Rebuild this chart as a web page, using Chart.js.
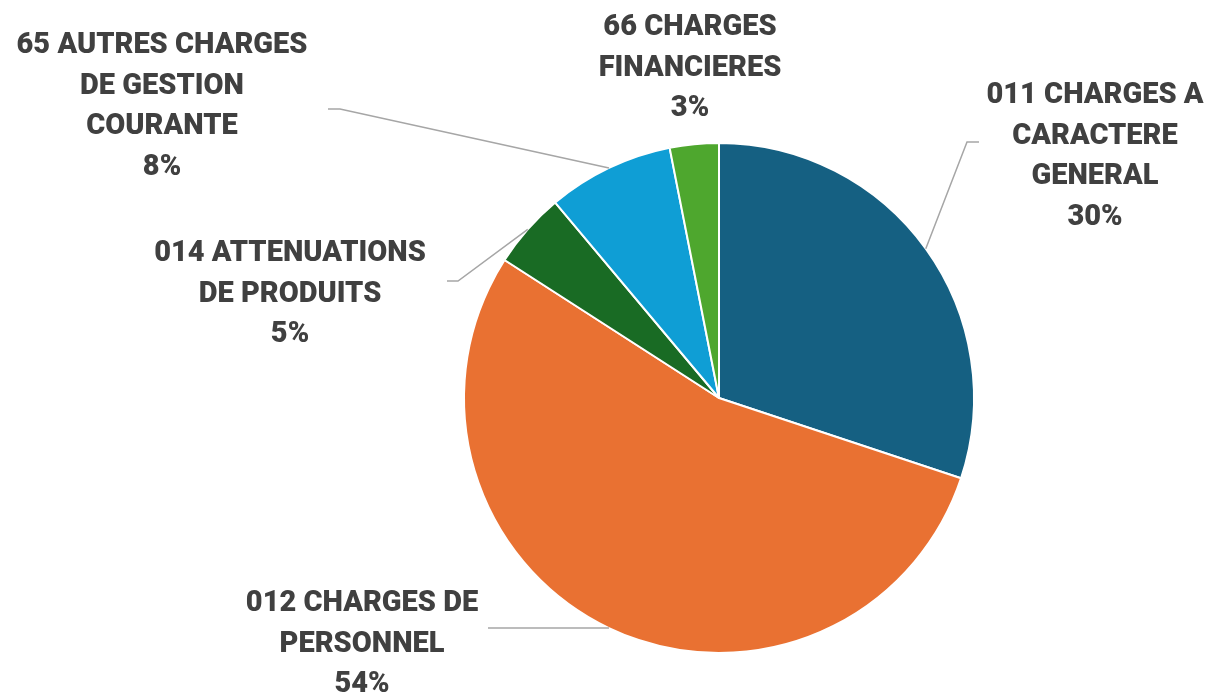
<!DOCTYPE html>
<html>
<head>
<meta charset="utf-8">
<script src="https://cdn.jsdelivr.net/npm/chart.js@4.4.1/dist/chart.umd.min.js"></script>
<style>
  html, body { margin: 0; padding: 0; background: #fff; }
  #wrap { width: 1210px; height: 696px; }
</style>
</head>
<body>
<div id="wrap"><canvas id="pieChart" width="1210" height="696"></canvas></div>
<script>
// data
const categories = [
  ['011 CHARGES A', 'CARACTERE', 'GENERAL'],
  ['012 CHARGES DE', 'PERSONNEL'],
  ['014 ATTENUATIONS', 'DE PRODUITS'],
  ['65 AUTRES CHARGES', 'DE GESTION', 'COURANTE'],
  ['66 CHARGES', 'FINANCIERES']
];
const shares = [30.1, 54.0, 4.8, 8.0, 3.1];
const colors = ['#156082', '#E97132', '#196B24', '#0F9ED5', '#4EA72E'];

// label placement (text center, leader elbow) in canvas pixels
const labelLayout = [
  { x: 1095, y: 96, elbow: [967, 142], end: [979, 142] },
  { x: 362, y: 604, elbow: null, end: [488, 628] },
  { x: 290, y: 254, elbow: [458, 281], end: [447, 281] },
  { x: 162, y: 46, elbow: [340, 109], end: [328, 109] },
  { x: 690, y: 28, elbow: null, end: null }
];

const outsideLabels = {
  id: 'outsideLabels',
  afterDatasetsDraw(chart) {
    const ctx = chart.ctx;
    const meta = chart.getDatasetMeta(0);
    const total = shares.reduce((a, b) => a + b, 0);
    ctx.save();
    meta.data.forEach((arc, i) => {
      const lay = labelLayout[i];
      const p = arc.getProps(['x', 'y', 'startAngle', 'endAngle', 'outerRadius'], true);
      const mid = (p.startAngle + p.endAngle) / 2;
      if (lay.end) {
        const ax = p.x + Math.cos(mid) * p.outerRadius;
        const ay = p.y + Math.sin(mid) * p.outerRadius;
        ctx.strokeStyle = '#a6a6a6';
        ctx.lineWidth = 1.5;
        ctx.beginPath();
        ctx.moveTo(ax, ay);
        if (lay.elbow) ctx.lineTo(lay.elbow[0], lay.elbow[1]);
        else ctx.lineTo(lay.end[0], ay);
        if (lay.elbow) ctx.lineTo(lay.end[0], lay.end[1]);
        ctx.stroke();
      }
      const lines = categories[i].concat([Math.round(shares[i] / total * 100) + '%']);
      ctx.fillStyle = '#404040';
      ctx.font = '900 29px Roboto';
      ctx.textAlign = 'center';
      ctx.textBaseline = 'middle';
      lines.forEach((t, k) => ctx.fillText(t, lay.x, lay.y + k * 40.5));
    });
    ctx.restore();
  }
};

new Chart(document.getElementById('pieChart'), {
  type: 'pie',
  data: {
    labels: categories.map(c => c.join(' ')),
    datasets: [{
      data: shares,
      backgroundColor: colors,
      borderColor: '#ffffff',
      borderWidth: 2
    }]
  },
  options: {
    responsive: false,
    animation: false,
    layout: { padding: { top: 142, bottom: 42, left: 463, right: 235 } },
    plugins: {
      legend: { display: false },
      tooltip: { enabled: false }
    }
  },
  plugins: [outsideLabels]
});
</script>
</body>
</html>
